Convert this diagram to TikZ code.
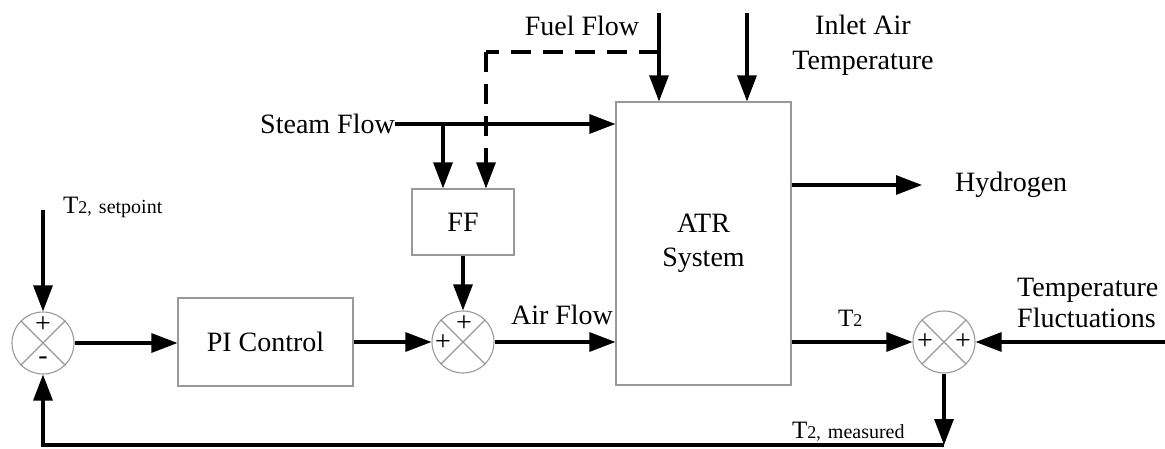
\documentclass[tikz,border=0pt]{standalone}
\usepackage{fontspec}
\setmainfont{Liberation Serif}
\usetikzlibrary{arrows.meta,calc}
\newcommand{\bigtxt}{\fontsize{28}{34}\selectfont}
\newcommand{\Ttxt}{\fontsize{25}{25}\selectfont}
\newcommand{\Tsub}{\fontsize{18}{18}\selectfont}
\newcommand{\Tword}{\fontsize{20}{20}\selectfont}
\begin{document}
\begin{tikzpicture}[x=1pt,y=-1pt,
  arr/.style={line width=3.1pt,-{Triangle[length=26pt,width=19pt]}},
  gbox/.style={draw=black!40,line width=1.1pt,inner sep=0pt,font=\bigtxt,align=center},
  sumj/.style={circle,draw=black!40,line width=1.1pt,minimum size=62pt,inner sep=0pt},
  lbl/.style={font=\bigtxt,inner sep=0pt,align=center},
  sgn/.style={font=\fontsize{28}{28}\selectfont,inner sep=0pt},
  dashln/.style={dash pattern=on 20pt off 12pt}
]
\useasboundingbox (0,0) rectangle (1165,449);

% boxes
\node[gbox,minimum width=175pt,minimum height=283pt] (atr) at (703.5,243.5) {ATR\\System};
\node[gbox,minimum width=102pt,minimum height=66pt] (ff) at (463,222) {FF};
\node[gbox,minimum width=175pt,minimum height=88pt] (pi) at (265.5,342) {PI Control};

% summing junctions
\node[sumj] (s1) at (43,343) {};
\node[sumj] (s2) at (463,342) {};
\node[sumj] (s3) at (944,342) {};
\foreach \s in {s1,s2,s3}{
  \draw[black!40,line width=1.1pt] (\s.45) -- (\s.225);
  \draw[black!40,line width=1.1pt] (\s.135) -- (\s.315);
}
\node[sgn] (s1p) at (43,325) {+};
\node[sgn] (s1m) at (43,361) {-};
\node[sgn] (s2p) at (464,324) {+};
\node[sgn] (s2l) at (443,343) {+};
\node[sgn] (s3l) at (925,342) {+};
\node[sgn] (s3r) at (963,342) {+};

% labels
\node[lbl] (fuel) at (582,26) {Fuel Flow};
\node[lbl,font=\fontsize{28}{35}\selectfont] (inlet) at (863,45) {Inlet Air\\Temperature};
\node[lbl,anchor=east] (steam) at (395,124) {Steam Flow};
\node[lbl,anchor=west] (hyd) at (955,185) {Hydrogen};
\node[lbl] (air) at (562,315) {Air Flow};
\node[lbl,anchor=west,align=left,font=\fontsize{28}{31}\selectfont] (tf) at (1017,303) {Temperature\\Fluctuations};
\node[inner sep=0pt,anchor=base west] (tsp) at (63,214) {\Ttxt T\Tsub 2,\hspace{7pt}\Tword setpoint};
\node[inner sep=0pt,anchor=base west] (tmeas) at (792,438) {\Ttxt T\Tsub 2,\hspace{7pt}\Tword measured};
\node[inner sep=0pt,anchor=base west] (t2) at (838,326) {\Ttxt T\Tsub 2};

% coordinates
\coordinate (tap1) at (443,124);
\coordinate (tap2) at (486,52);
\coordinate (fuelin) at (659,13);
\coordinate (fuelbr) at (659,52);
\coordinate (inletin) at (747,13);
\coordinate (spin) at (43,210);
\coordinate (tfin) at (1165,342);
\coordinate (fb) at (944,445);

% connectors
\draw[arr] (steam.east) -- (steam.east -| atr.west);
\draw[arr] (tap1) -- (tap1 |- ff.north);
\draw[line width=3.1pt,dashln] (fuelbr) -- (tap2);
\draw[arr,dashln] (tap2) -- (tap2 |- ff.north);
\draw[arr] (fuelin) -- (fuelin |- atr.north);
\draw[arr] (inletin) -- (inletin |- atr.north);
\draw[arr] (hyd.west -| atr.east) -- ([xshift=-33pt]hyd.west);
\draw[arr] (spin) -- (s1.north);
\draw[arr] (s1.east) -- (pi.west |- s1.east);
\draw[arr] (pi.east) -- (s2.west);
\draw[arr] (ff.south) -- (s2.north);
\draw[arr] (s2.east) -- (s2.east -| atr.west);
\draw[arr] (s3.west -| atr.east) -- (s3.west);
\draw[arr] (tfin) -- (s3.east);
\draw[arr] (s3.south) -- (fb);
\draw[arr] (fb) -- (s1.south |- fb) -- (s1.south);
\end{tikzpicture}
\end{document}
